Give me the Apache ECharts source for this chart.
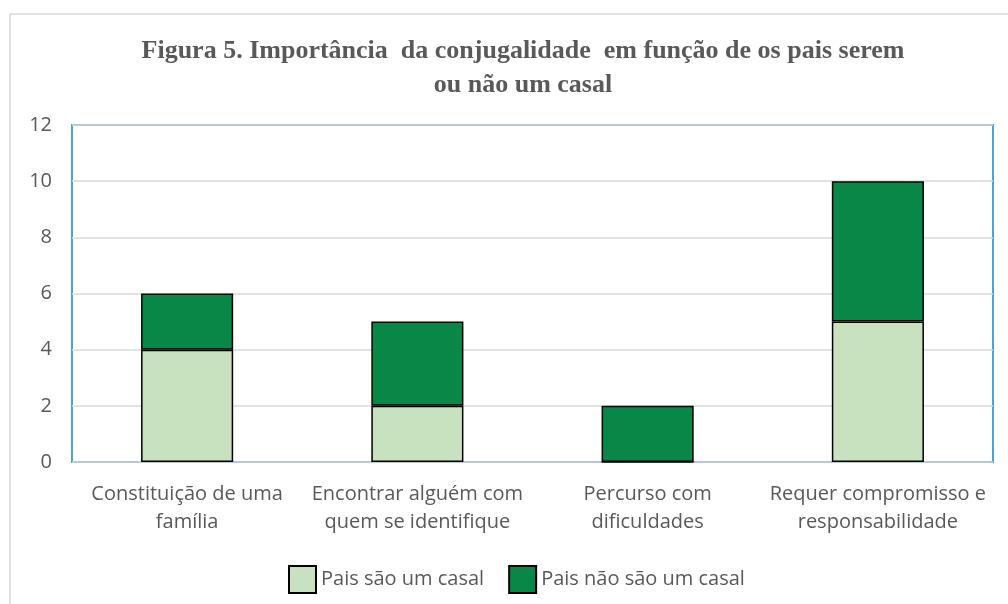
<!DOCTYPE html>
<html>
<head>
<meta charset="utf-8">
<script src="https://cdn.jsdelivr.net/npm/echarts@6/dist/echarts.min.js"></script>
<style>
  html, body { margin: 0; padding: 0; background: #fff; }
  #main { width: 1008px; height: 604px; }
</style>
</head>
<body>
<div id="main"></div>
<script>
const categories = [
  'Constituição de uma\nfamília',
  'Encontrar alguém com\nquem se identifique',
  'Percurso com\ndificuldades',
  'Requer compromisso e\nresponsabilidade'
];
const paisCasal = [4, 2, 0, 5];
const paisNaoCasal = [2, 3, 2, 5];
const yTicks = [0, 12, 2]; // min, max, interval

const chart = echarts.init(document.getElementById('main'));
const labelFont = '"Open Sans", "Noto Sans", sans-serif';

chart.setOption({
  animation: false,
  backgroundColor: '#fff',
  graphic: [{
    type: 'rect',
    shape: { x: 10, y: 14, width: 1100, height: 1000 },
    style: { fill: 'none', stroke: '#d9d9d9', lineWidth: 1.5 },
    silent: true
  }],
  title: {
    text: 'Figura 5. Importância  da conjugalidade  em função de os pais serem\nou não um casal',
    left: 518,
    textAlign: 'center',
    top: 29,
    textStyle: {
      fontFamily: '"Liberation Serif", "DejaVu Serif", serif',
      fontWeight: 'bold',
      fontSize: 26,
      lineHeight: 34,
      color: '#595959'
    }
  },
  legend: {
    data: ['Pais são um casal', 'Pais não são um casal'],
    left: 283,
    top: 560,
    icon: 'rect',
    itemWidth: 27,
    itemHeight: 27,
    itemGap: 24,
    textStyle: { fontFamily: labelFont, fontSize: 20, color: '#595959' }
  },
  grid: {
    left: 72,
    right: 15,
    top: 125,
    bottom: 142,
    show: true,
    borderColor: '#4aa2dc',
    borderWidth: 2,
    containLabel: false
  },
  xAxis: {
    type: 'category',
    data: categories,
    axisLine: { show: false },
    axisTick: { show: false },
    axisLabel: {
      interval: 0,
      margin: 18,
      lineHeight: 28,
      fontFamily: labelFont,
      fontSize: 20,
      color: '#595959'
    }
  },
  yAxis: {
    type: 'value',
    min: yTicks[0],
    max: yTicks[1],
    interval: yTicks[2],
    axisLine: { show: false },
    axisTick: { show: false },
    splitLine: { lineStyle: { color: '#d9d9d9', width: 1.5 } },
    axisLabel: {
      margin: 20,
      fontFamily: labelFont,
      fontSize: 20,
      color: '#595959'
    }
  },
  series: [
    {
      name: 'Pais são um casal',
      type: 'bar',
      stack: 'total',
      barWidth: '40%',
      data: paisCasal,
      itemStyle: { color: '#c8e2c0', borderColor: '#000', borderWidth: 1.5 }
    },
    {
      name: 'Pais não são um casal',
      type: 'bar',
      stack: 'total',
      barWidth: '40%',
      data: paisNaoCasal,
      itemStyle: { color: '#088746', borderColor: '#000', borderWidth: 1.5 }
    }
  ]
});
</script>
</body>
</html>
